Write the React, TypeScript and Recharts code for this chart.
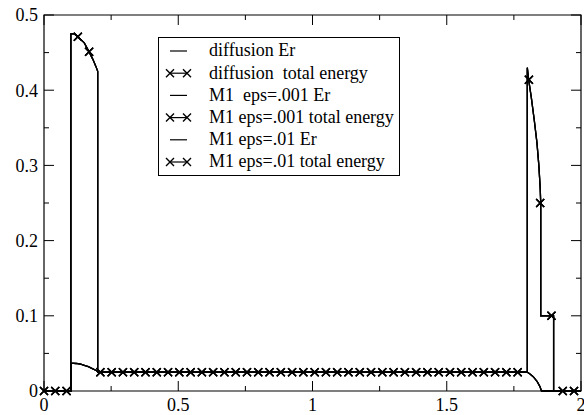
import React from "react";
import { ComposedChart, Line, Scatter, XAxis, YAxis, ReferenceArea } from "recharts";

// ---- data ----
const seriesNames = [
  "diffusion Er",
  "diffusion  total energy",
  "M1  eps=.001 Er",
  "M1 eps=.001 total energy",
  "M1 eps=.01 Er",
  "M1 eps=.01 total energy",
];

const diffusionErX = [0, 0.1, 0.1, 0.12, 0.134, 0.15, 0.165, 0.18, 0.196, 0.2, 1.8, 1.81, 1.822, 1.837, 1.847, 1.853, 2];
const diffusionErY = [0, 0, 0.037, 0.0366, 0.0359, 0.034, 0.0323, 0.0298, 0.027, 0.025, 0.025, 0.0225, 0.019, 0.0124, 0.0058, 0, 0];

const diffusionTotalX = [0, 0.1, 0.1, 0.112, 0.126, 0.15, 0.168, 0.182, 0.194, 0.2, 0.2, 1.8, 1.8, 1.805, 1.815, 1.826, 1.836, 1.843, 1.848, 1.85, 1.85, 1.898, 1.898, 2];
const diffusionTotalY = [0, 0, 0.475, 0.475, 0.471, 0.463, 0.451, 0.441, 0.431, 0.425, 0.025, 0.025, 0.43, 0.414, 0.39, 0.36, 0.33, 0.3, 0.27, 0.25, 0.1, 0.1, 0, 0];

const m1Eps001ErX = [0, 0.1, 0.1, 0.12, 0.134, 0.15, 0.165, 0.18, 0.196, 0.2, 1.8, 1.81, 1.822, 1.837, 1.847, 1.853, 2];
const m1Eps001ErY = [0, 0, 0.037, 0.0366, 0.0359, 0.034, 0.0323, 0.0298, 0.027, 0.025, 0.025, 0.0225, 0.019, 0.0124, 0.0058, 0, 0];

const m1Eps001TotalX = [0, 0.1, 0.1, 0.112, 0.126, 0.15, 0.168, 0.182, 0.194, 0.2, 0.2, 1.8, 1.8, 1.805, 1.815, 1.826, 1.836, 1.843, 1.848, 1.85, 1.85, 1.898, 1.898, 2];
const m1Eps001TotalY = [0, 0, 0.475, 0.475, 0.471, 0.463, 0.451, 0.441, 0.431, 0.425, 0.025, 0.025, 0.43, 0.414, 0.39, 0.36, 0.33, 0.3, 0.27, 0.25, 0.1, 0.1, 0, 0];

const m1Eps01ErX = [0, 0.1, 0.1, 0.12, 0.134, 0.15, 0.165, 0.18, 0.196, 0.2, 1.8, 1.81, 1.822, 1.837, 1.847, 1.853, 2];
const m1Eps01ErY = [0, 0, 0.037, 0.0366, 0.0359, 0.034, 0.0323, 0.0298, 0.027, 0.025, 0.025, 0.0225, 0.019, 0.0124, 0.0058, 0, 0];

const m1Eps01TotalX = [0, 0.1, 0.1, 0.112, 0.126, 0.15, 0.168, 0.182, 0.194, 0.2, 0.2, 1.8, 1.8, 1.805, 1.815, 1.826, 1.836, 1.843, 1.848, 1.85, 1.85, 1.898, 1.898, 2];
const m1Eps01TotalY = [0, 0, 0.475, 0.475, 0.471, 0.463, 0.451, 0.441, 0.431, 0.425, 0.025, 0.025, 0.43, 0.414, 0.39, 0.36, 0.33, 0.3, 0.27, 0.25, 0.1, 0.1, 0, 0];

// sampled points carrying "x" markers (total energy series)
const markerX = [0, 0.042, 0.084, 0.126, 0.168, 0.21, 0.252, 0.294, 0.336, 0.378, 0.42, 0.462, 0.504, 0.546, 0.588, 0.63, 0.672, 0.714, 0.756, 0.798, 0.84, 0.882, 0.924, 0.966, 1.008, 1.05, 1.092, 1.134, 1.176, 1.218, 1.26, 1.302, 1.344, 1.386, 1.428, 1.47, 1.512, 1.554, 1.596, 1.638, 1.68, 1.722, 1.764, 1.806, 1.848, 1.89, 1.932, 1.974];
const markerY = [0, 0, 0, 0.471, 0.451, 0.025, 0.025, 0.025, 0.025, 0.025, 0.025, 0.025, 0.025, 0.025, 0.025, 0.025, 0.025, 0.025, 0.025, 0.025, 0.025, 0.025, 0.025, 0.025, 0.025, 0.025, 0.025, 0.025, 0.025, 0.025, 0.025, 0.025, 0.025, 0.025, 0.025, 0.025, 0.025, 0.025, 0.025, 0.025, 0.025, 0.025, 0.025, 0.414, 0.25, 0.1, 0, 0];

const xTicks = [0, 0.25, 0.5, 0.75, 1, 1.25, 1.5, 1.75, 2];
const xMajorTicks = [0, 0.5, 1, 1.5, 2];
const xMajorLabels = ["0", "0.5", "1", "1.5", "2"];
const yTicks = [0, 0.05, 0.1, 0.15, 0.2, 0.25, 0.3, 0.35, 0.4, 0.45, 0.5];
const yMajorTicks = [0, 0.1, 0.2, 0.3, 0.4, 0.5];
const yMajorLabels = ["0", "0.1", "0.2", "0.3", "0.4", "0.5"];

// ---- layout ----
const W = 584;
const H = 415;
const PL = 44;
const PR = 581;
const PT = 15;
const PB = 391;
const FONT = "Liberation Serif";

const toPts = (xs: number[], ys: number[]) => xs.map((x, i) => ({ x, y: ys[i] }));

const curves = [
  { name: seriesNames[0], data: toPts(diffusionErX, diffusionErY), marks: false },
  { name: seriesNames[1], data: toPts(diffusionTotalX, diffusionTotalY), marks: true },
  { name: seriesNames[2], data: toPts(m1Eps001ErX, m1Eps001ErY), marks: false },
  { name: seriesNames[3], data: toPts(m1Eps001TotalX, m1Eps001TotalY), marks: true },
  { name: seriesNames[4], data: toPts(m1Eps01ErX, m1Eps01ErY), marks: false },
  { name: seriesNames[5], data: toPts(m1Eps01TotalX, m1Eps01TotalY), marks: true },
];
const markerPts = toPts(markerX, markerY);

const Cross = (props: any) => {
  const { cx, cy } = props;
  if (cx == null || cy == null) return null;
  const s = 4;
  return (
    <path
      d={`M${cx - s},${cy - s}L${cx + s},${cy + s}M${cx - s},${cy + s}L${cx + s},${cy - s}`}
      stroke="#000"
      strokeWidth={1.4}
      fill="none"
    />
  );
};

const textStyle = { fontFamily: FONT, fill: "#000", whiteSpace: "pre" } as React.CSSProperties;

// inward tick marks, mirrored on the opposite frame side
const YTick = (props: any) => {
  const { y, payload } = props;
  const idx = yMajorTicks.indexOf(payload.value);
  const len = idx >= 0 ? 10 : 5;
  return (
    <g>
      <line x1={PL} x2={PL + len} y1={y} y2={y} stroke="#000" strokeWidth={1} />
      <line x1={PR} x2={PR - len} y1={y} y2={y} stroke="#000" strokeWidth={1} />
    </g>
  );
};

const XTick = (props: any) => {
  const { x } = props;
  const idx = xMajorTicks.indexOf(props.payload.value);
  const len = idx >= 0 ? 10 : 5;
  return (
    <g>
      <line x1={x} x2={x} y1={PB} y2={PB - len} stroke="#000" strokeWidth={1} />
      <line x1={x} x2={x} y1={PT} y2={PT + len} stroke="#000" strokeWidth={1} />
    </g>
  );
};

// tick labels placed with the same linear mapping the axes use
const sx = (v: number) => PL + (v / 2) * (PR - PL);
const sy = (v: number) => PB - (v / 0.5) * (PB - PT);

const AxisLabels = () => (
  <svg
    width={W}
    height={H}
    style={{ position: "absolute", left: 0, top: 0, pointerEvents: "none", overflow: "hidden", fontFamily: FONT }}
  >
    {yMajorTicks.map((v, i) => (
      <text
        key={"y" + i}
        x={38}
        y={sy(v)}
        dy="0.35em"
        textAnchor="end"
        fontFamily={FONT}
        fontSize={18}
        fill="#000"
        style={{ ...textStyle, fontSize: 18 }}
        xmlSpace="preserve"
      >
        {yMajorLabels[i]}
      </text>
    ))}
    {xMajorTicks.map((v, i) => (
      <text
        key={"x" + i}
        x={sx(v)}
        y={405}
        dy="0.35em"
        textAnchor="middle"
        fontFamily={FONT}
        fontSize={18}
        fill="#000"
        style={{ ...textStyle, fontSize: 18 }}
        xmlSpace="preserve"
      >
        {xMajorLabels[i]}
      </text>
    ))}
  </svg>
);

const LegendBox = () => {
  const rowH = 22.2;
  return (
    <svg
      width={242}
      height={139}
      style={{ position: "absolute", left: 158, top: 37, overflow: "visible", fontFamily: FONT }}
    >
      <rect x={0.5} y={0.5} width={241} height={138} fill="#fff" stroke="#000" strokeWidth={1} />
      {curves.map((c, i) => {
        const cy = 14 + i * rowH;
        return (
          <g key={i}>
            <line x1={12} x2={29} y1={cy} y2={cy} stroke="#000" strokeWidth={1.2} />
            {c.marks && <Cross cx={12} cy={cy} />}
            {c.marks && <Cross cx={29} cy={cy} />}
            <text
              x={51}
              y={cy}
              dy="0.3em"
              fontFamily={FONT}
              fontSize={18}
              fill="#000"
              style={{ ...textStyle, fontSize: 18 }}
              xmlSpace="preserve"
            >
              {c.name}
            </text>
          </g>
        );
      })}
    </svg>
  );
};

export default function App() {
  return (
    <div
      style={{
        position: "absolute",
        left: 0,
        top: 0,
        width: W,
        height: H,
        background: "#fff",
        overflow: "hidden",
        fontFamily: FONT,
      }}
    >
      <ComposedChart width={W} height={H} margin={{ top: PT, right: W - PR, left: 0, bottom: 0 }}>
        <XAxis
          dataKey="x"
          type="number"
          domain={[0, 2]}
          ticks={xTicks}
          interval={0}
          height={H - PB}
          axisLine={false}
          tickLine={false}
          tick={<XTick />}
          allowDuplicatedCategory={false}
        />
        <YAxis
          dataKey="y"
          type="number"
          domain={[0, 0.5]}
          ticks={yTicks}
          interval={0}
          width={PL}
          axisLine={false}
          tickLine={false}
          tick={<YTick />}
        />
        <ReferenceArea x1={0} x2={2} y1={0} y2={0.5} fill="none" fillOpacity={0} stroke="#000" strokeWidth={1.2} strokeOpacity={1} />
        {curves.map((c, i) => (
          <Line
            key={"l" + i}
            data={c.data}
            dataKey="y"
            name={c.name}
            type="linear"
            stroke="#000"
            strokeWidth={1.3}
            dot={false}
            activeDot={false}
            isAnimationActive={false}
          />
        ))}
        {curves
          .filter((c) => c.marks)
          .map((c, i) => (
            <Scatter
              key={"s" + i}
              data={markerPts}
              dataKey="y"
              name={c.name}
              shape={<Cross />}
              isAnimationActive={false}
              legendType="none"
            />
          ))}
      </ComposedChart>
      <AxisLabels />
      <LegendBox />
    </div>
  );
}
